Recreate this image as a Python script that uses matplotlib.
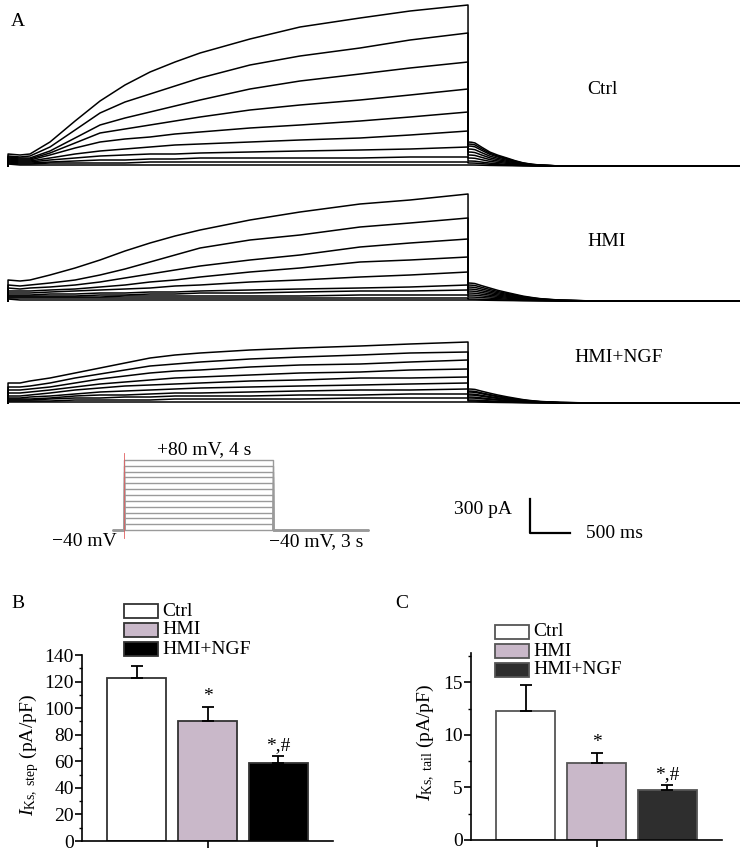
import numpy as np
import matplotlib
matplotlib.use("Agg")
import matplotlib.pyplot as plt
from matplotlib.patches import Rectangle
from matplotlib.ticker import MultipleLocator

plt.rcParams['font.family'] = ['Liberation Serif', 'DejaVu Serif']
plt.rcParams['mathtext.fontset'] = 'custom'
plt.rcParams['mathtext.rm'] = 'Liberation Serif'
plt.rcParams['mathtext.it'] = 'Liberation Serif:italic'
plt.rcParams['font.size'] = 14

# ---------------- data ----------------
GROUPS = ["Ctrl", "HMI", "HMI+NGF"]

# sample times (ms) during the 4 s step
STEP_T = [0, 104, 191, 365, 583, 800, 1017, 1235, 1452, 1670, 2104, 2539, 3061, 3496, 4000]
# current (pA) of each sweep at STEP_T (top sweep = +80 mV)
CTRL_STEP = [
    [108, 99, 108, 216, 405, 585, 729, 846, 936, 1017, 1143, 1251, 1332, 1395, 1449],
    [90, 81, 90, 171, 324, 477, 576, 648, 720, 792, 909, 990, 1062, 1134, 1197],
    [81, 72, 72, 135, 252, 369, 432, 486, 540, 594, 693, 765, 828, 882, 936],
    [72, 63, 63, 117, 207, 297, 333, 369, 405, 441, 504, 549, 594, 639, 693],
    [63, 54, 54, 99, 162, 216, 243, 261, 288, 306, 342, 369, 405, 441, 486],
    [54, 45, 45, 72, 108, 135, 153, 171, 189, 198, 216, 234, 252, 279, 315],
    [45, 36, 36, 54, 72, 90, 99, 108, 108, 117, 126, 135, 144, 153, 171],
    [36, 27, 27, 36, 45, 54, 54, 63, 63, 72, 72, 72, 72, 81, 81],
    [27, 18, 18, 27, 27, 27, 27, 36, 36, 36, 36, 36, 36, 36, 36],
    [18, 9, 9, 9, 9, 9, 9, 9, 9, 9, 9, 9, 9, 9, 9],
]
HMI_STEP = [
    [189, 180, 189, 234, 297, 369, 450, 522, 585, 639, 729, 801, 873, 909, 963],
    [144, 135, 144, 162, 189, 234, 288, 351, 414, 477, 549, 594, 666, 702, 747],
    [117, 108, 117, 126, 144, 171, 207, 243, 279, 315, 369, 414, 486, 522, 558],
    [90, 90, 90, 99, 108, 126, 144, 171, 189, 216, 261, 297, 351, 369, 396],
    [72, 72, 72, 81, 90, 99, 108, 117, 135, 144, 171, 189, 216, 234, 261],
    [54, 54, 54, 63, 63, 72, 72, 81, 81, 90, 99, 108, 117, 126, 144],
    [45, 45, 45, 45, 45, 54, 54, 63, 63, 72, 72, 81, 90, 90, 99],
    [36, 36, 36, 36, 36, 36, 45, 45, 45, 45, 45, 45, 54, 54, 54],
    [27, 27, 27, 27, 27, 27, 27, 27, 27, 27, 27, 27, 27, 27, 27],
    [18, 9, 9, 9, 9, 9, 9, 9, 9, 9, 9, 9, 9, 9, 9],
]
NGF_STEP = [
    [180, 180, 198, 225, 270, 315, 360, 405, 432, 450, 477, 495, 513, 531, 549],
    [144, 144, 153, 180, 225, 261, 297, 333, 351, 369, 396, 414, 432, 450, 459],
    [117, 117, 126, 144, 180, 216, 243, 270, 288, 297, 324, 342, 351, 369, 387],
    [90, 90, 99, 117, 144, 171, 189, 207, 225, 234, 252, 270, 279, 297, 306],
    [63, 63, 72, 90, 117, 135, 153, 162, 171, 180, 198, 207, 225, 225, 234],
    [45, 45, 54, 63, 81, 99, 108, 117, 126, 135, 144, 153, 162, 171, 180],
    [36, 36, 36, 45, 63, 72, 72, 81, 90, 90, 99, 108, 117, 117, 126],
    [27, 27, 27, 36, 45, 45, 54, 54, 63, 63, 63, 72, 72, 81, 81],
    [18, 18, 18, 18, 27, 27, 27, 27, 36, 36, 36, 36, 45, 45, 45],
    [9, 9, 9, 9, 9, 9, 9, 9, 9, 9, 9, 9, 9, 9, 9],
]
# tail currents at -40 mV: peak (pA) per sweep and relative decay at TAIL_T (ms after step end)
TAIL_T = [0, 30, 60, 120, 190, 260, 340, 410, 480, 560, 630, 800, 1100]
CTRL_TAIL_PEAK = [216, 198, 180, 153, 126, 99, 72, 45, 27, 9]
HMI_TAIL_PEAK = [162, 144, 126, 108, 90, 72, 54, 36, 18, 9]
NGF_TAIL_PEAK = [126, 108, 99, 81, 72, 54, 45, 27, 18, 9]
CTRL_TAIL_DECAY = [1.0, 0.99, 0.96, 0.78, 0.58, 0.45, 0.33, 0.22, 0.13, 0.07, 0.04, 0.0, 0.0]
HMI_TAIL_DECAY = [1.0, 0.99, 0.97, 0.85, 0.72, 0.59, 0.47, 0.37, 0.27, 0.19, 0.13, 0.05, 0.0]
NGF_TAIL_DECAY = [1.0, 0.99, 0.97, 0.84, 0.70, 0.57, 0.44, 0.34, 0.24, 0.16, 0.11, 0.04, 0.0]
STEP_DUR = 4000
TAIL_DUR = 3000

# voltage protocol
PROTO_LEVELS = [-40, -30, -20, -10, 0, 10, 20, 30, 40, 50, 60, 70, 80]
PROTO_T = [-300, 0, 0, 4000, 4000, 6540]
HOLD = -40

# bar charts
STEP_MEAN = [122.7, 90.0, 58.4]
STEP_SEM = [8.8, 11.0, 5.8]
TAIL_MEAN = [12.3, 7.3, 4.8]
TAIL_SEM = [2.5, 1.0, 0.4]
SIG_LABELS = ["", "*", "*,#"]

COL_B = ["white", "#c9b8c9", "#000000"]
COL_C = ["white", "#c9b8c9", "#2e2e2e"]

# ---------------- figure ----------------
W, H = 748, 852
fig = plt.figure(figsize=(W / 100, H / 100), dpi=100)


def axpx(l, t, r, b):
    return fig.add_axes([l / W, 1 - b / H, (r - l) / W, (b - t) / H])


def ftext(x, y, s, **kw):
    kw.setdefault("ha", "center")
    kw.setdefault("va", "center")
    fig.text(x / W, 1 - y / H, s, **kw)


def draw_traces(ax, step, peaks, decay):
    for sweep, pk in zip(step, peaks):
        t = np.concatenate([[0], STEP_T, np.array(TAIL_T) + STEP_DUR, [STEP_DUR + TAIL_DUR]])
        i = np.concatenate([[0], sweep, pk * np.array(decay), [0]])
        ax.plot(t, i, color="black", lw=1.1, solid_joinstyle="round")
    ax.set_xlim(-35, 6365)
    ax.axis("off")


axA1 = axpx(4, 0, 740, 168)
draw_traces(axA1, CTRL_STEP, CTRL_TAIL_PEAK, CTRL_TAIL_DECAY)
axA1.set_ylim(-18, 1494)

axA2 = axpx(4, 180, 740, 303)
draw_traces(axA2, HMI_STEP, HMI_TAIL_PEAK, HMI_TAIL_DECAY)
axA2.set_ylim(-18, 1089)

axA3 = axpx(4, 320, 740, 405)
draw_traces(axA3, NGF_STEP, NGF_TAIL_PEAK, NGF_TAIL_DECAY)
axA3.set_ylim(-18, 747)

ftext(18, 22, "A")
ftext(602, 90, GROUPS[0])
ftext(607, 242, GROUPS[1])
ftext(619, 357, GROUPS[2])

# protocol
axP = axpx(100, 445, 380, 545)
for v in PROTO_LEVELS:
    axP.plot(PROTO_T, [HOLD, HOLD, v, v, HOLD, HOLD], color="#9a9a9a", lw=1.0)
axP.axvline(0, ymin=0.07, ymax=0.92, color="#e06060", lw=0.6)
axP.set_xlim(-644, 6874)
axP.set_ylim(-65.7, 105.7)
axP.axis("off")
ftext(204, 450, "+80 mV, 4 s")
ftext(84, 542, "\u221240 mV")
ftext(316, 542, "\u221240 mV, 3 s")

# scale bar
axS = axpx(520, 490, 580, 540)
axS.plot([500, 0, 0], [0, 0, 300], color="black", lw=1.6)
axS.set_xlim(-125, 625)
axS.set_ylim(-62, 379)
axS.axis("off")
ftext(483, 510, "300 pA")
ftext(615, 534, "500 ms")


# bar charts
def bar_panel(ax, means, sems, cols, edge, ymax, major, minor, ylabel, lab_xy):
    x = np.arange(len(means))
    ax.bar(x, means, width=0.83, color=cols, edgecolor=edge, linewidth=1.3, zorder=2)
    ax.errorbar(x, means, yerr=[np.zeros(len(sems)), sems], fmt="none", ecolor="black",
                elinewidth=1.3, capsize=4, capthick=1.3, zorder=3)
    for xi, m, s, lab in zip(x, means, sems, SIG_LABELS):
        if lab:
            ax.annotate(lab, (xi, m + s), xytext=(0, 1.5), textcoords="offset points",
                        ha="center", va="bottom", fontsize=14)
    ax.set_xlim(-0.768, 2.768)
    ax.set_ylim(0, ymax)
    ax.yaxis.set_major_locator(MultipleLocator(major))
    ax.yaxis.set_minor_locator(MultipleLocator(minor))
    ax.set_xticks([1])
    ax.set_xticklabels([""])
    for s in ["top", "right"]:
        ax.spines[s].set_visible(False)
    for s in ["left", "bottom"]:
        ax.spines[s].set_linewidth(1.2)
    ax.tick_params(axis="both", which="major", direction="out", length=5, width=1.2, pad=1, labelsize=14)
    ax.tick_params(axis="y", which="minor", direction="out", length=2.5, width=1.0)
    ax.set_ylabel(ylabel, fontsize=14)
    ax.yaxis.set_label_coords(*lab_xy)


def legend_px(x0, y0, cols, edge):
    for k, (g, c) in enumerate(zip(GROUPS, cols)):
        yt = y0 + k * 19
        fig.patches.append(Rectangle((x0 / W, 1 - (yt + 14) / H), 34 / W, 14 / H,
                                     transform=fig.transFigure, facecolor=c,
                                     edgecolor=edge, linewidth=1.3))
        ftext(x0 + 38, yt + 7, g, ha="left")


axB = axpx(82, 655, 333, 841)
bar_panel(axB, STEP_MEAN, STEP_SEM, COL_B, "#333333", 140, 20, 10,
          r"$I_{\mathrm{Ks,\ step}}$ (pA/pF)", (-0.165, 0.46))
legend_px(124, 604, COL_B, "#333333")
ftext(18, 603, "B")

axC = axpx(471, 653, 722, 840)
bar_panel(axC, TAIL_MEAN, TAIL_SEM, COL_C, "#555555", 17.8, 5, 2.5,
          r"$I_{\mathrm{Ks,\ tail}}$ (pA/pF)", (-0.135, 0.52))
legend_px(495, 625, COL_C, "#555555")
ftext(402, 603, "C")

fig.savefig("out.png", dpi=100)
